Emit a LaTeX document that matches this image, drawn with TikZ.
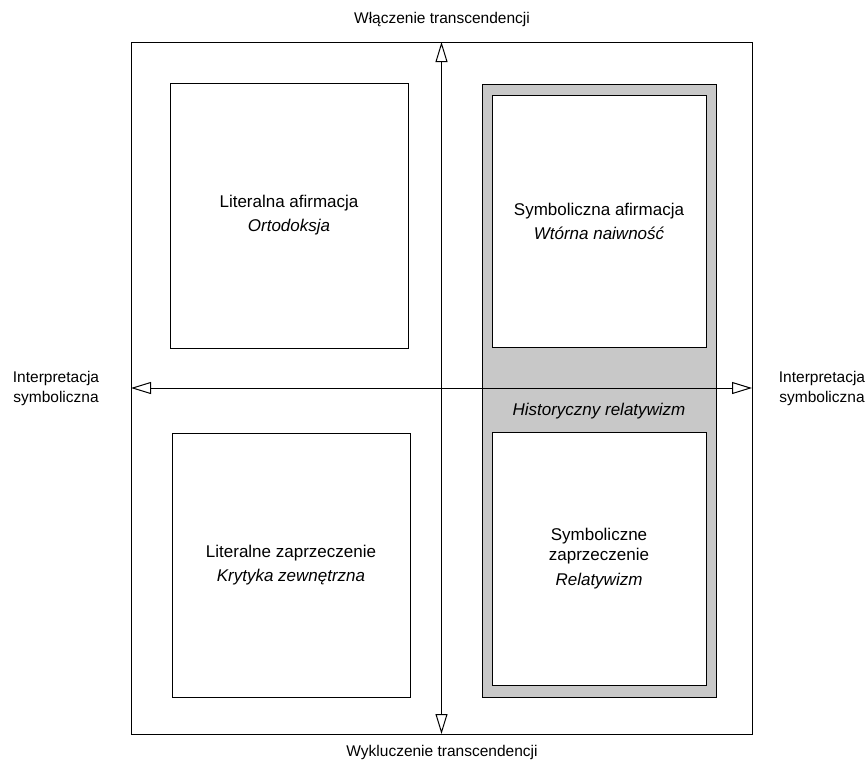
\documentclass[tikz,border=0pt]{standalone}
\usepackage{fontspec}
\setmainfont{Liberation Sans}
\usetikzlibrary{arrows.meta}
\definecolor{boxgray}{RGB}{200,200,200}
\tikzset{
  inner/.style={draw=black, line width=1pt, fill=white, inner sep=0pt, outer sep=0pt, align=center,
     font=\fontsize{17}{20}\selectfont},
  outerlbl/.style={inner sep=0pt, align=center, font=\fontsize{15.5}{20}\selectfont},
  axis/.style={line width=1pt, {Triangle[open, length=20pt, width=12pt, fill=white]}-{Triangle[open, length=20pt, width=12pt, fill=white]}},
}
\begin{document}
\begin{tikzpicture}[x=1pt,y=-1pt]
\useasboundingbox (0,0) rectangle (868,766);
% frame
\node[draw=black, line width=1pt, inner sep=0pt, outer sep=0pt, minimum width=621pt, minimum height=692pt] (frame) at (441.5,388) {};
% gray band
\node[draw=black, line width=1pt, fill=boxgray, inner sep=0pt, outer sep=0pt, minimum width=234pt, minimum height=613pt] (band) at (599,390.5) {};
% boxes
\node[inner, minimum width=238pt, minimum height=265pt] (la) at (289,215.5)
  {Literalna afirmacja\\[4pt]\textit{Ortodoksja}};
\node[inner, minimum width=238pt, minimum height=264pt] (lz) at (291,565)
  {Literalne zaprzeczenie\\[4pt]\textit{Krytyka zewnętrzna}};
\node[inner, minimum width=214pt, minimum height=252pt] (sa) at (599,221)
  {Symboliczna afirmacja\\[4pt]\textit{Wtórna naiwność}};
\node[inner, minimum width=214pt, minimum height=253pt] (sz) at (599,558.5)
  {Symboliczne\\zaprzeczenie\\[5pt]\textit{Relatywizm}};
\node[inner sep=0pt, font=\fontsize{17}{20}\selectfont\itshape] (hr) at (599,411) {Historyczny relatywizm};
% axes
\draw[axis] (frame.west) -- (frame.east);
\draw[axis] (frame.south) -- (frame.north);
% labels
\node[outerlbl] (top) at (442,19) {Włączenie transcendencji};
\node[outerlbl] (bot) at (442,752) {Wykluczenie transcendencji};
\node[outerlbl] (left) at (56,388) {Interpretacja\\symboliczna};
\node[outerlbl] (right) at (822,388) {Interpretacja\\symboliczna};
\end{tikzpicture}
\end{document}
